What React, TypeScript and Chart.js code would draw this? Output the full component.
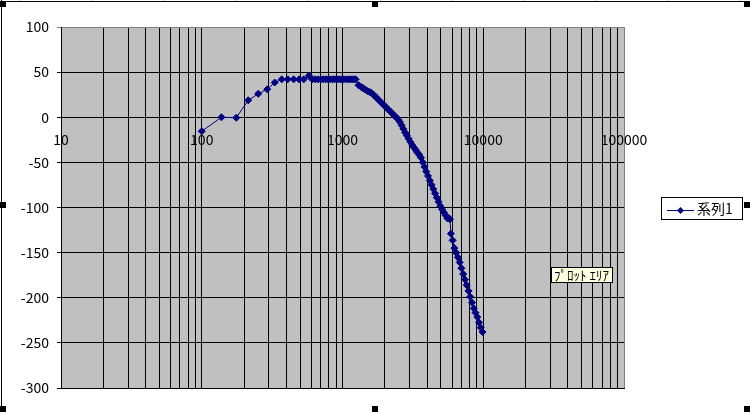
import React, { useEffect, useRef } from "react";
import { Chart, registerables } from "chart.js";

Chart.register(...registerables);

// ---- data ----
const frequencies: number[] = [
  100, 138, 176, 214, 252, 292, 330, 370, 408, 450, 491, 530, 578, 610,
  640, 670, 700, 730, 760, 790, 820, 850, 880, 910, 940, 975, 1010, 1050,
  1090, 1130, 1170, 1210, 1240,
  1300, 1357, 1396, 1437, 1479, 1522, 1567, 1612, 1660, 1708, 1758, 1809,
  1862, 1917, 1972, 2030, 2089, 2150, 2213, 2278, 2344, 2413, 2483, 2556,
  2630, 2707, 2786, 2868, 2951, 3037, 3126, 3217, 3311, 3408, 3508, 3610,
  3715, 3824, 3936, 4050, 4169, 4290, 4416, 4545, 4677, 4814, 4955, 5100,
  5248, 5401, 5559, 5715, 5803, 5888, 6058, 6237, 6419, 6607, 6800, 6998,
  7202, 7413, 7628, 7852, 8080, 8318, 8559, 8810, 9070, 9333, 9605, 9886,
];

const series1: number[] = [
  -15.5, 0, -0.5, 18.8, 26, 31, 38.5, 42, 42, 42, 42, 42, 46, 42,
  42, 42, 42, 42, 42, 42, 42, 42, 42, 42, 42, 42, 42, 42,
  42, 42, 42, 42, 42,
  35.5, 33.5, 32.3, 31, 29.8, 28.6, 27.8, 26.8, 25, 23, 21, 19.1,
  17.2, 15.2, 13.3, 11.4, 9.4, 7.5, 5.5, 3.6, 1.6, -0.3, -2.3, -5.2,
  -9, -12.9, -16.8, -20.3, -23.8, -27.3, -30.7, -33.5, -36.2, -39, -41.7, -44.8,
  -50, -55, -60.2, -65, -70, -74.8, -79.6, -84.3, -89, -93.7, -98.4, -102,
  -105.4, -108.7, -112, -112, -113, -129, -136.4, -145, -150, -155.2, -160.8, -167.3,
  -173.7, -179.8, -186, -192.4, -198.9, -205.4, -211.8, -216.5, -221.3, -227.3, -233.2, -238,
];

const seriesName = "系列1";
const tooltipLabel = "ﾌﾟﾛｯﾄ ｴﾘｱ";

const xMin = 10;
const xMax = 100000;
const xTickLabels: string[] = ["10", "100", "1000", "10000", "100000"];
const xTickValues: number[] = [10, 100, 1000, 10000, 100000];
const xGridMultipliers: number[] = [1, 2, 3, 4, 5, 6, 7, 8, 9];

const yMin = -300;
const yMax = 100;
const yStep = 50;

const FONT = '"Noto Sans CJK JP", "Noto Sans", sans-serif';
const NAVY = "#000080";

function diamond(ctx: CanvasRenderingContext2D, x: number, y: number, r: number) {
  ctx.beginPath();
  ctx.moveTo(x, y - r);
  ctx.lineTo(x + r, y);
  ctx.lineTo(x, y + r);
  ctx.lineTo(x - r, y);
  ctx.closePath();
  ctx.fill();
}

const decorPlugin = {
  id: "decor",
  beforeDraw(chart: any) {
    const { ctx, chartArea: a } = chart;
    ctx.save();
    ctx.fillStyle = "#ffffff";
    ctx.fillRect(0, 0, chart.width, chart.height);
    ctx.fillStyle = "#c0c0c0";
    ctx.fillRect(a.left, a.top, a.right - a.left, a.bottom - a.top);
    ctx.restore();
  },
  afterDraw(chart: any) {
    const { ctx } = chart;
    const xs = chart.scales.x;
    const ys = chart.scales.y;
    const y0 = ys.getPixelForValue(0);
    ctx.save();

    // x-axis labels sit under the zero line
    ctx.font = `14px ${FONT}`;
    ctx.fillStyle = "#000";
    ctx.textAlign = "center";
    ctx.textBaseline = "alphabetic";
    xTickValues.forEach((v, i) => {
      ctx.fillText(xTickLabels[i], xs.getPixelForValue(v), y0 + 28);
    });

    // legend
    ctx.fillStyle = "#fff";
    ctx.fillRect(661, 197, 81, 22);
    ctx.strokeStyle = "#000";
    ctx.lineWidth = 1;
    ctx.strokeRect(661.5, 197.5, 81, 22);
    ctx.strokeStyle = NAVY;
    ctx.beginPath();
    ctx.moveTo(667, 210.5);
    ctx.lineTo(694, 210.5);
    ctx.stroke();
    ctx.fillStyle = NAVY;
    diamond(ctx, 680.5, 210.5, 3.5);
    ctx.fillStyle = "#000";
    ctx.font = `14px ${FONT}`;
    ctx.textAlign = "left";
    ctx.textBaseline = "middle";
    ctx.fillText(seriesName, 697, 209);

    // hover label
    ctx.fillStyle = "#ffffe1";
    ctx.fillRect(551, 267, 62, 16);
    ctx.strokeStyle = "#000";
    ctx.strokeRect(551.5, 267.5, 61, 15);
    ctx.fillStyle = "#000";
    ctx.font = `13px ${FONT}`;
    ctx.textAlign = "left";
    ctx.textBaseline = "middle";
    ctx.fillText(tooltipLabel, 554, 275.5);

    // chart-object frame and selection handles
    ctx.fillStyle = "#c0c0c0";
    for (let x = 20; x < 750; x += 72) ctx.fillRect(x, 0, 1, 1);
    ctx.fillStyle = "#000";
    ctx.fillRect(0, 1, 746, 1);
    ctx.fillRect(1, 0, 1, 412);
    const handles = [
      [0, 1], [372, 1], [744, 1],
      [0, 202], [744, 202],
      [0, 406], [372, 406], [744, 406],
    ];
    handles.forEach(([hx, hy]) => ctx.fillRect(hx, hy, 6, 6));
    ctx.restore();
  },
};

export default function App() {
  const canvasRef = useRef<HTMLCanvasElement | null>(null);

  useEffect(() => {
    document.body.style.margin = "0";
    const canvas = canvasRef.current;
    if (!canvas) return;
    const points = frequencies.map((f, i) => ({ x: f, y: series1[i] }));
    const chart = new Chart(canvas, {
      type: "line",
      data: {
        datasets: [
          {
            label: seriesName,
            data: points,
            borderColor: NAVY,
            borderWidth: 1,
            backgroundColor: NAVY,
            pointStyle: "rectRot",
            pointRadius: 3.5,
            pointBorderWidth: 1,
            pointBackgroundColor: NAVY,
            pointBorderColor: NAVY,
            tension: 0,
            fill: false,
          },
        ],
      },
      options: {
        animation: false,
        responsive: false,
        devicePixelRatio: 1,
        layout: { padding: { left: 0, top: 27, right: 126, bottom: 24 } },
        plugins: {
          legend: { display: false },
          tooltip: { enabled: false },
        },
        events: [],
        scales: {
          x: {
            type: "logarithmic",
            min: xMin,
            max: xMax,
            afterBuildTicks: (scale: any) => {
              const ticks: any[] = [];
              for (let d = xMin; d < xMax; d *= 10) {
                xGridMultipliers.forEach((m) => ticks.push({ value: d * m }));
              }
              ticks.push({ value: xMax });
              scale.ticks = ticks;
            },
            afterFit: (scale: any) => {
              scale.height = 0;
            },
            ticks: { display: false },
            grid: {
              color: (c: any) => (c.tick && c.tick.value === xMax ? "#808080" : "#000000"),
              lineWidth: 1,
              drawTicks: false,
            },
            border: { display: true, color: "#000000", width: 1 },
          },
          y: {
            type: "linear",
            min: yMin,
            max: yMax,
            afterFit: (scale: any) => {
              scale.width = 61;
            },
            ticks: {
              stepSize: yStep,
              color: "#000",
              padding: 8,
              font: { family: FONT, size: 14 },
            },
            grid: {
              color: (c: any) => (c.tick && c.tick.value === yMax ? "#808080" : "#000000"),
              lineWidth: 1,
              drawTicks: true,
              tickLength: 4,
            },
            border: { display: true, color: "#000000", width: 1 },
          },
        },
      },
      plugins: [decorPlugin],
    } as any);
    return () => chart.destroy();
  }, []);

  return (
    <div style={{ width: 750, height: 412, position: "relative" }}>
      <canvas ref={canvasRef} width={750} height={412} style={{ width: 750, height: 412, display: "block" }} />
    </div>
  );
}
